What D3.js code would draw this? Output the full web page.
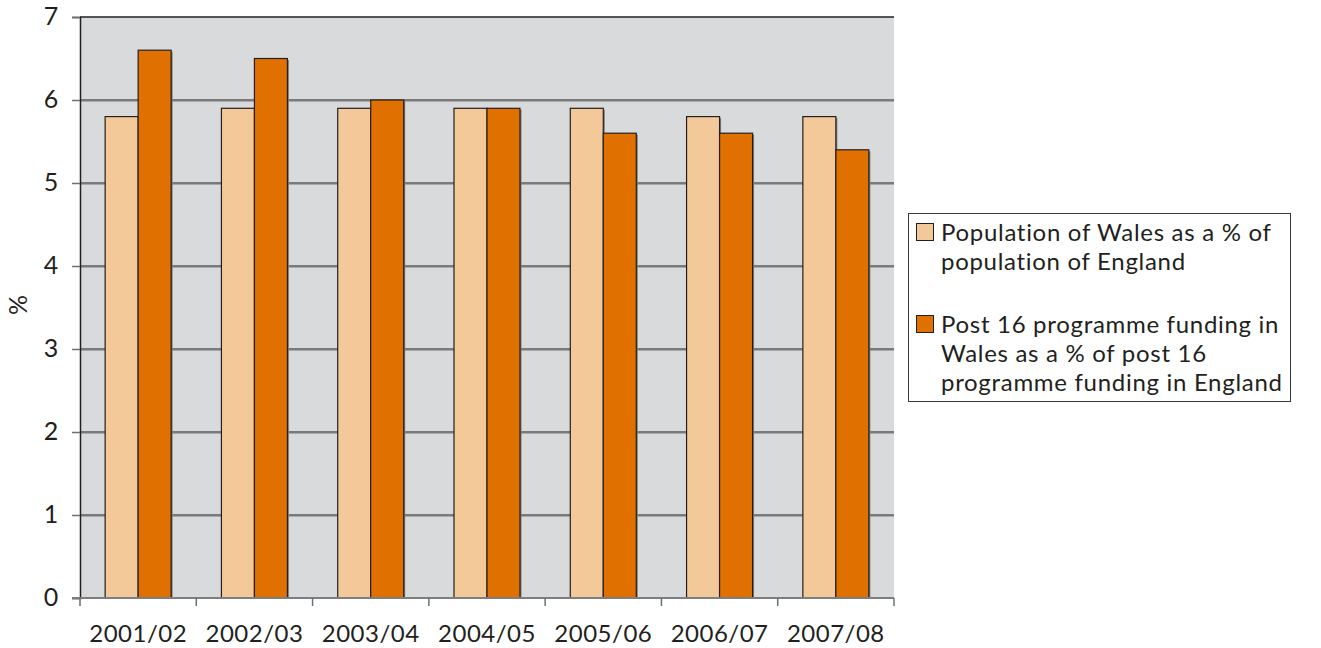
<!DOCTYPE html>
<html>
<head>
<meta charset="utf-8">
<script src="https://cdn.jsdelivr.net/npm/d3@7/dist/d3.min.js"></script>
<style>
  html, body { margin: 0; padding: 0; background: #fff; }
  svg { display: block; }
  text { font-family: Lato, "Open Sans", sans-serif; fill: #231f20; }
</style>
</head>
<body>
<svg id="chart" width="1321" height="648"></svg>
<script>
// Academic years shown along the x axis
const years = ["2001/02", "2002/03", "2003/04", "2004/05", "2005/06", "2006/07", "2007/08"];
// Population of Wales as a % of population of England
const populationShare = [5.8, 5.9, 5.9, 5.9, 5.9, 5.8, 5.8];
// Post 16 programme funding in Wales as a % of that in England
const fundingShare = [6.6, 6.5, 6.0, 5.9, 5.6, 5.6, 5.4];
const yTicks = [0, 1, 2, 3, 4, 5, 6, 7];
const seriesNames = [
  ["Population of Wales as a % of", "population of England"],
  ["Post 16 programme funding in", "Wales as a % of post 16", "programme funding in England"]
];
const seriesColors = ["#f4c99a", "#e07000"];

const svg = d3.select("#chart");
const plot = { left: 80, right: 894, top: 17, bottom: 598 };

const x = d3.scaleBand().domain(years).range([plot.left, plot.right]).paddingInner(0).paddingOuter(0);
const y = d3.scaleLinear().domain([0, 7]).range([plot.bottom, plot.top]);

// Plot background
svg.append("rect")
  .attr("x", plot.left).attr("y", plot.top)
  .attr("width", plot.right - plot.left).attr("height", plot.bottom - plot.top)
  .attr("fill", "#d9dadc");

// Horizontal gridlines
const grid = svg.append("g");
yTicks.filter(t => t > 0 && t < 7).forEach(t => {
  grid.append("line")
    .attr("x1", plot.left).attr("x2", plot.right)
    .attr("y1", y(t) + 1.5).attr("y2", y(t) + 1.5)
    .attr("stroke", "#a8a9ab").attr("stroke-width", 1);
  grid.append("line")
    .attr("x1", plot.left).attr("x2", plot.right)
    .attr("y1", y(t)).attr("y2", y(t))
    .attr("stroke", "#5a5a5c").attr("stroke-width", 1.5);
});
// Top border of the plot
svg.append("line")
  .attr("x1", plot.left).attr("x2", plot.right)
  .attr("y1", plot.top).attr("y2", plot.top)
  .attr("stroke", "#231f20").attr("stroke-width", 1.5);

// Bars
const data = years.map((yr, i) => ({ yr, vals: [populationShare[i], fundingShare[i]] }));
const groups = svg.append("g").selectAll("g").data(data).join("g")
  .attr("transform", d => `translate(${x(d.yr)},0)`);
const barW = 33;
const offsets = [x.bandwidth() / 2 - barW, x.bandwidth() / 2];
// soft shadow behind each bar
groups.selectAll("rect.shadow").data(d => d.vals).join("rect")
  .attr("class", "shadow")
  .attr("x", (v, j) => offsets[j] + 1.5)
  .attr("y", v => y(v) + 1.5)
  .attr("width", barW)
  .attr("height", v => y(0) - y(v) - 1.5)
  .attr("fill", "#7d7d7f");
groups.selectAll("rect.bar").data(d => d.vals).join("rect")
  .attr("class", "bar")
  .attr("x", (v, j) => offsets[j])
  .attr("y", v => y(v))
  .attr("width", barW)
  .attr("height", v => y(0) - y(v))
  .attr("fill", (v, j) => seriesColors[j])
  .attr("stroke", "#231f20").attr("stroke-width", 1.2);

// Y axis
const yAxis = svg.append("g").attr("transform", `translate(${plot.left},0)`)
  .call(d3.axisLeft(y).tickValues(yTicks).tickSize(8).tickPadding(16).tickFormat(d3.format("d")));
yAxis.select(".domain").attr("stroke", "#231f20").attr("stroke-width", 1.5);
yAxis.selectAll(".tick line").attr("stroke", "#6d6e70").attr("stroke-width", 1.5);
yAxis.selectAll(".tick text").attr("font-size", 25).attr("fill", "#231f20")
  .attr("font-family", "Lato, 'Open Sans', sans-serif").attr("text-anchor", "middle").attr("x", -29)
  .attr("dy", "0.30em");

// X axis
const xAxis = svg.append("g").attr("transform", `translate(0,${plot.bottom})`)
  .call(d3.axisBottom(x).tickSize(0).tickPadding(27));
xAxis.select(".domain").remove();
svg.append("line")
  .attr("x1", plot.left - 8).attr("x2", plot.right)
  .attr("y1", plot.bottom).attr("y2", plot.bottom)
  .attr("stroke", "#7d7e80").attr("stroke-width", 2);
const bounds = years.map(yr => x(yr)).concat([plot.right]);
svg.append("g").selectAll("line").data(bounds).join("line")
  .attr("x1", d => d).attr("x2", d => d)
  .attr("y1", plot.bottom).attr("y2", plot.bottom + 8)
  .attr("stroke", "#6d6e70").attr("stroke-width", 1.5);
xAxis.selectAll(".tick text").attr("font-size", 24).attr("fill", "#231f20")
  .attr("letter-spacing", "0.5px")
  .attr("font-family", "Lato, 'Open Sans', sans-serif");

// Y axis title
svg.append("text")
  .attr("transform", "translate(27,305) rotate(-90)")
  .attr("text-anchor", "middle")
  .attr("font-size", 25)
  .text("%");

// Legend
const legend = svg.append("g");
legend.append("rect")
  .attr("x", 908.5).attr("y", 213.5).attr("width", 382).attr("height", 188)
  .attr("fill", "#fff").attr("stroke", "#3a3a3c").attr("stroke-width", 1);
const entryTop = [223, 315];
seriesNames.forEach((lines, i) => {
  legend.append("rect")
    .attr("x", 916.5).attr("y", entryTop[i] + 0.5).attr("width", 17).attr("height", 17)
    .attr("fill", seriesColors[i]).attr("stroke", "#231f20").attr("stroke-width", 1);
  lines.forEach((ln, k) => {
    legend.append("text")
      .attr("x", 941).attr("y", entryTop[i] + 18 + k * 29)
      .attr("font-size", 24)
      .attr("letter-spacing", "0.7px")
      .text(ln);
  });
});
</script>
</body>
</html>
